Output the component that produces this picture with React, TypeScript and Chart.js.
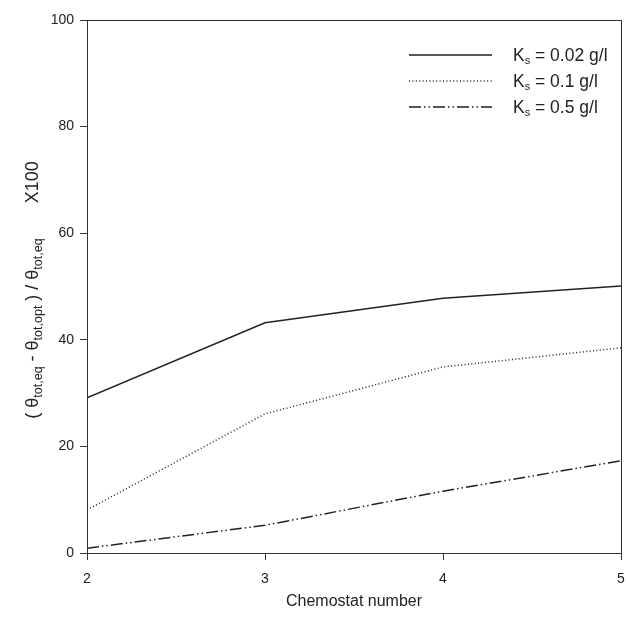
import React, { useEffect, useRef } from "react";
import { Chart, registerables } from "chart.js";

Chart.register(...registerables);

const chemostatNumbers = [2, 3, 4, 5];
const ks002 = [29.1, 43.2, 47.8, 50.1];
const ks01 = [8.1, 26.1, 34.9, 38.5];
const ks05 = [0.9, 5.2, 11.6, 17.3];
const yTicks = [0, 20, 40, 60, 80, 100];
const legendLabels = [" = 0.02 g/l", " = 0.1 g/l", " = 0.5 g/l"];

const FONT = "'Liberation Sans', Arial, sans-serif";
const INK = "#222";

const dashes: number[][] = [[], [1, 2.4], [12, 3, 1.5, 3, 1.5, 3]];

type Seg = { t: string; sub?: boolean };

function measureSegments(ctx: CanvasRenderingContext2D, segs: Seg[], size: number, subSize: number) {
  let w = 0;
  for (const s of segs) {
    ctx.font = `${s.sub ? subSize : size}px ${FONT}`;
    w += ctx.measureText(s.t).width;
  }
  return w;
}

function paintSegments(
  ctx: CanvasRenderingContext2D,
  segs: Seg[],
  x: number,
  y: number,
  size: number,
  subSize: number,
  subShift: number
) {
  let cx = x;
  for (const s of segs) {
    ctx.font = `${s.sub ? subSize : size}px ${FONT}`;
    ctx.fillText(s.t, cx, s.sub ? y + subShift : y);
    cx += ctx.measureText(s.t).width;
  }
}

const decorPlugin = {
  id: "decor",
  afterDraw(chart: any) {
    const ctx: CanvasRenderingContext2D = chart.ctx;
    const a = chart.chartArea;
    ctx.save();
    ctx.strokeStyle = "#333";
    ctx.lineWidth = 1;
    ctx.setLineDash([]);
    ctx.strokeRect(
      Math.round(a.left) + 0.5,
      Math.round(a.top) + 0.5,
      Math.round(a.right - a.left),
      Math.round(a.bottom - a.top)
    );

    ctx.fillStyle = INK;
    ctx.textAlign = "left";
    ctx.textBaseline = "alphabetic";

    const rows = [55, 81, 107];
    rows.forEach((ry, i) => {
      ctx.strokeStyle = INK;
      ctx.lineWidth = 1.5;
      ctx.setLineDash(dashes[i]);
      ctx.beginPath();
      ctx.moveTo(409, ry);
      ctx.lineTo(492, ry);
      ctx.stroke();
      ctx.setLineDash([]);
      paintSegments(
        ctx,
        [{ t: "K" }, { t: "s", sub: true }, { t: legendLabels[i] }],
        513,
        ry + 6,
        17.5,
        11,
        3
      );
    });

    ctx.font = `16px ${FONT}`;
    ctx.textAlign = "center";
    ctx.fillText("Chemostat number", (a.left + a.right) / 2, 606);

    ctx.textAlign = "left";
    const segs: Seg[] = [
      { t: "( \u03b8" },
      { t: "tot,eq", sub: true },
      { t: " - \u03b8" },
      { t: "tot,opt", sub: true },
      { t: " ) / \u03b8" },
      { t: "tot,eq", sub: true },
      { t: "       X100" },
    ];
    const w = measureSegments(ctx, segs, 18, 12.5);
    ctx.translate(38, 290);
    ctx.rotate(-Math.PI / 2);
    paintSegments(ctx, segs, -w / 2, 0, 18, 12.5, 4);
    ctx.restore();
  },
};

export default function App() {
  const ref = useRef<HTMLCanvasElement | null>(null);
  useEffect(() => {
    document.body.style.margin = "0";
    const canvas = ref.current!;
    const mk = (data: number[], i: number) => ({
      label: "K" + i,
      data: chemostatNumbers.map((x, k) => ({ x, y: data[k] })),
      borderColor: INK,
      borderWidth: 1.5,
      borderDash: dashes[i],
      pointRadius: 0,
      tension: 0,
      fill: false,
    });
    const chart = new Chart(canvas, {
      type: "line",
      data: {
        datasets: [mk(ks002, 0), mk(ks01, 1), mk(ks05, 2)],
      },
      plugins: [decorPlugin],
      options: {
        animation: false,
        responsive: false,
        maintainAspectRatio: false,
        layout: { padding: { top: 20, right: 5, left: 0, bottom: 0 } },
        plugins: { legend: { display: false }, tooltip: { enabled: false } },
        scales: {
          x: {
            type: "linear",
            min: 2,
            max: 5,
            afterFit: (s: any) => {
              s.height = 64;
              s.paddingLeft = 0;
              s.paddingRight = 0;
            },
            afterBuildTicks: (s: any) => {
              s.ticks = chemostatNumbers.map((v) => ({ value: v }));
            },
            ticks: {
              font: { family: FONT, size: 14 },
              color: INK,
              padding: 11,
              maxRotation: 0,
              callback: (v: any) => String(v),
            },
            grid: { drawOnChartArea: false, tickLength: 7, color: "#333" },
            border: { color: "#333", width: 1 },
          },
          y: {
            type: "linear",
            min: 0,
            max: 100,
            afterFit: (s: any) => {
              s.width = 87;
              s.paddingTop = 0;
              s.paddingBottom = 0;
            },
            afterBuildTicks: (s: any) => {
              s.ticks = yTicks.map((v) => ({ value: v }));
            },
            ticks: {
              font: { family: FONT, size: 14 },
              color: INK,
              padding: 6,
              callback: (v: any) => String(v),
            },
            grid: { drawOnChartArea: false, tickLength: 7, color: "#333" },
            border: { color: "#333", width: 1 },
          },
        },
      },
    });
    return () => chart.destroy();
  }, []);
  return (
    <div style={{ width: 626, height: 617 }}>
      <canvas ref={ref} width={626} height={617} style={{ display: "block" }} />
    </div>
  );
}
